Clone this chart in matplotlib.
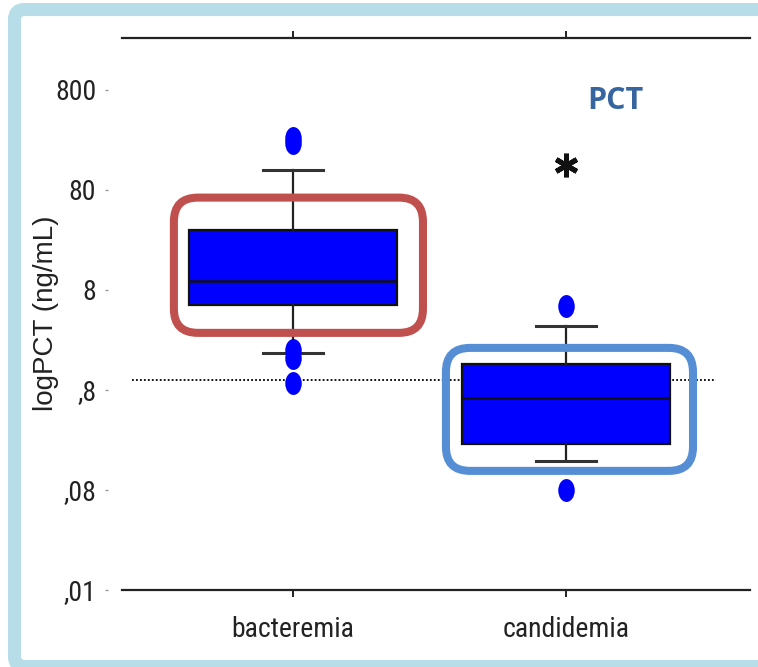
import matplotlib
matplotlib.use("Agg")
import matplotlib.pyplot as plt
from matplotlib.path import Path
from matplotlib.patches import FancyBboxPatch
from matplotlib.transforms import IdentityTransform, Affine2D

# ---------------- DATA ----------------
groups = ["bacteremia", "candidemia"]
q1 = [5.66, 0.231]
medians = [9.8, 0.665]
q3 = [32.0, 1.455]
whislo = [1.87, 0.156]
whishi = [127.0, 3.49]
fliers = [[265.0, 236.0, 2.0, 1.65, 0.93], [5.47, 0.08]]
extreme = [None, 142.0]          # starred extreme value (candidemia)
ref_level = 1.0

yticks = [800, 80, 8, 0.8, 0.08, 0.008]
yticklabels = ["800", "80", "8", ",8", ",08", ",01"]

# ---------------- FIGURE ----------------
W, H = 758, 667
fig = plt.figure(figsize=(W / 100, H / 100), dpi=100)
fig.patch.set_facecolor("white")

def px_rect(x0, y0, x1, y1):
    # image pixel box (top-left origin) -> figure fraction rect
    return [x0 / W, 1 - y1 / H, (x1 - x0) / W, (y1 - y0) / H]

ax = fig.add_axes(px_rect(122, 38, 750, 590))
narrow = ["Roboto Condensed", "Liberation Sans Narrow", "Liberation Sans", "DejaVu Sans"]

stats = []
for i, g in enumerate(groups):
    stats.append(dict(label=g, med=medians[i], q1=q1[i], q3=q3[i],
                      whislo=whislo[i], whishi=whishi[i], fliers=fliers[i]))

# tall oval for outlier dots
oval = Path.unit_circle().transformed(Affine2D().scale(0.72, 1.0))

ax.hlines(ref_level, 0.41, 2.55, colors="black", linestyles=(0, (1, 1.2)),
          linewidth=1.3, zorder=1)

bp = ax.bxp(stats, positions=[1, 2], widths=0.762, patch_artist=True,
            capwidths=0.22,
            boxprops=dict(facecolor="#0000ff", edgecolor="#111111", linewidth=1.6),
            medianprops=dict(color="#111111", linewidth=1.8),
            whiskerprops=dict(color="#222222", linewidth=1.6),
            capprops=dict(color="#333333", linewidth=2.2),
            flierprops=dict(marker=oval, markersize=16.5, markerfacecolor="#0000ff",
                            markeredgecolor="#0000ff", markeredgewidth=0, linestyle="none"),
            zorder=2)

for i, v in enumerate(extreme):
    if v is not None:
        ax.plot([i + 1], [v], marker=(6, 2, 0), markersize=17, markeredgewidth=3.6,
                color="#111111", linestyle="none", zorder=3)

ax.set_yscale("log")
ax.set_ylim(0.008, 10 ** 3.42)
ax.set_xlim(0.374, 2.674)
ax.set_yticks(yticks)
ax.set_yticklabels(yticklabels)
ax.minorticks_off()
ax.set_xticks([1, 2])
ax.set_xticklabels(groups)

for s in ["top", "bottom"]:
    ax.spines[s].set_linewidth(1.6)
    ax.spines[s].set_color("#222222")
ax.spines["right"].set_visible(False)
ax.spines["left"].set_color("none")
ax.spines["left"].set_position(("outward", 10))

ax.tick_params(axis="x", top=True, direction="out", length=5, width=1.4,
               color="#222222", pad=14)
ax.tick_params(axis="y", direction="out", length=2.5, width=1, color="#999999", pad=6)
for lab in ax.get_xticklabels() + ax.get_yticklabels():
    lab.set_family(narrow)
    lab.set_fontstretch("condensed")
    lab.set_fontsize(20)
    lab.set_color("#222222")

ax.set_ylabel("logPCT (ng/mL)", family=["Liberation Sans", "DejaVu Sans"],
              fontsize=20, color="#222222")
ax.yaxis.set_label_coords(59 / W, 1 - 313 / H, transform=fig.transFigure)

fig.text(615 / W, 1 - 101 / H, "PCT", family=["Open Sans", "DejaVu Sans"],
         fontweight="bold", fontsize=22, color="#3765a0", ha="center", va="center")

# ---------------- HIGHLIGHT FRAMES ----------------
frame_colors = ["#c0504d", "#558ed5"]
frame_pads = [(15, 26, 32, 28), (16, 23, 16, 27)]   # left, right, top, bottom (px)
for i in range(len(groups)):
    x0, y0 = ax.transData.transform((i + 1 - 0.381, q1[i]))
    x1, y1 = ax.transData.transform((i + 1 + 0.381, q3[i]))
    pl, pr, pt, pb = frame_pads[i]
    rect = FancyBboxPatch((x0 - pl, y0 - pb), (x1 - x0) + pl + pr, (y1 - y0) + pt + pb,
                          boxstyle="round,pad=0,rounding_size=24",
                          transform=IdentityTransform(), facecolor="none",
                          edgecolor=frame_colors[i], linewidth=5.8, zorder=5)
    fig.add_artist(rect)

# outer light blue border
border = FancyBboxPatch((14.5, 0.5), 770, 657, boxstyle="round,pad=0,rounding_size=10",
                        transform=IdentityTransform(), facecolor="none",
                        edgecolor="#b7dde8", linewidth=9.4, zorder=6)
fig.add_artist(border)

fig.savefig("out.png", dpi=100)
